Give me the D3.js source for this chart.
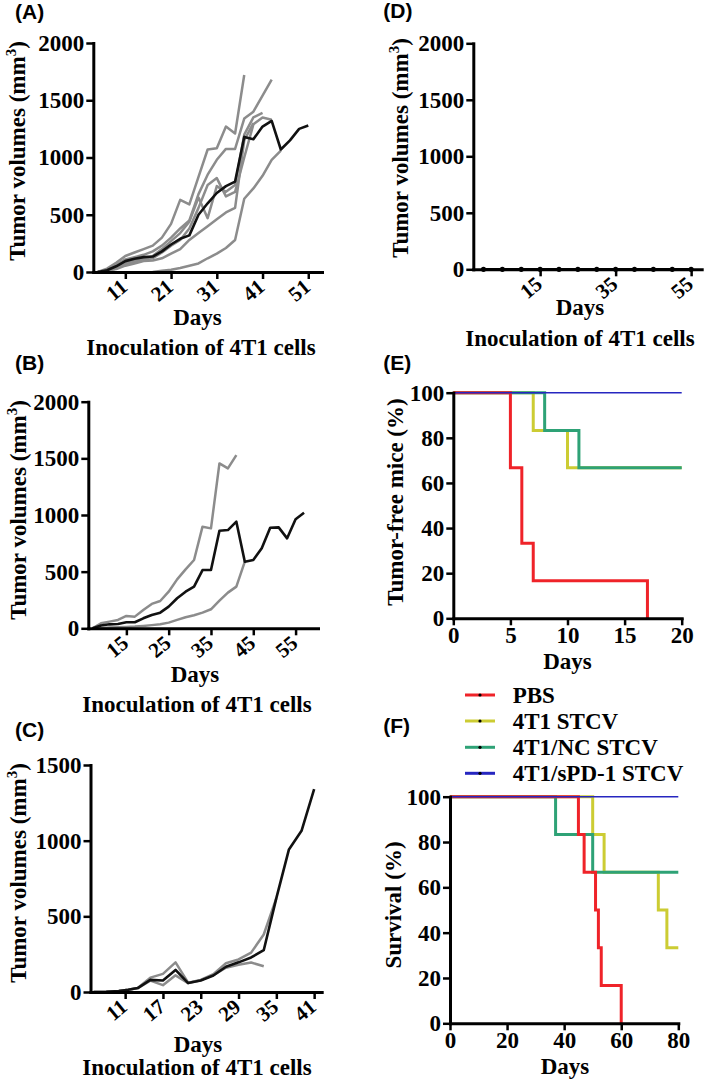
<!DOCTYPE html>
<html><head><meta charset="utf-8">
<script src="https://cdn.jsdelivr.net/npm/d3@7"></script>
<style>
body{margin:0;background:#fff;}
svg text{font-family:"Liberation Serif","Times New Roman",serif;font-weight:bold;fill:#000;}
svg text.plabel{font-family:"Liberation Sans",Arial,sans-serif;}
</style></head><body>
<svg id="chart" width="709" height="1081"></svg>
<script>
// ---------- Panel A ----------
const aDays = [5,7,9,11,13,15,17,19,21,23,25,27,29,31,33,35,37,39,41,43,45];
const aGray1 = [0,30,80,140,170,200,230,300,420,630,590,830,1070,1080,1270,1210,1720,null,null,null,null];
const aGray2 = [0,20,60,110,130,150,180,230,300,380,450,680,850,980,1075,1075,1340,1400,1540,1680,null];
const aGray3 = [0,15,45,80,100,115,140,200,270,340,440,650,470,750,700,760,1200,1350,1390,null,null];
const aGray4 = [0,10,30,70,90,110,120,170,230,280,380,560,760,820,660,700,1000,1290,1350,1330,null];
const aGray5 = [0,10,25,55,75,95,100,120,160,200,280,340,400,460,520,560,1150,1300,null,null,null];
const aGray6 = [null,null,null,null,null,null,0,10,20,35,55,75,120,160,210,280,640,730,840,980,1060];
const aBlackDays = [5,7,9,11,13,15,17,19,21,23,25,27,29,31,33,35,37,39,41,43,45,47,49,51];
const aBlackVals = [0,15,50,95,115,130,135,180,240,290,320,500,600,690,750,790,1180,1160,1270,1320,1070,1150,1250,1280];
const aXTicks = [11,21,31,41,51];
// ---------- Panel B ----------
const bBlackDays = [7,9,11,13,15,17,19,21,23,25,27,29,31,33,35,37,39,41,43,45,47,49,51,53,55,57];
const bBlackVals = [0,24,35,38,53,53,88,118,138,191,265,323,368,514,514,861,867,941,588,603,706,888,891,794,962,1020];
const bGray1Days = [7,9,11,13,15,17,19,21,23,25,27,29,31,33,35,37,39,41];
const bGray1Vals = [0,44,59,74,109,103,162,215,241,323,432,520,603,897,882,1455,1411,1529];
const bGray2Days = [7,9,11,13,15,17,19,21,23,25,27,29,31,33,35,37,39,41,43];
const bGray2Vals = [0,3,6,9,12,15,21,28,35,50,74,97,115,138,168,244,315,368,588];
const bXTicks = [15,25,35,45,55];
// ---------- Panel C ----------
const cDays = [6,8,10,11.5,13,15,17,19,21,23,25,27,29,31,33,35,37,39,41];
const cBlack = [0,2,7,15,26,80,76,146,59,76,109,167,196,228,276,620,942,1065,1340];
const cGray1 = [0,2,7,15,26,95,120,196,62,80,118,190,215,260,380,620,null,null,null];
const cGray2 = [0,2,7,15,26,75,45,110,59,78,112,160,180,195,170,null,null,null,null];
const cXTicks = [11,17,23,29,35,41];
// ---------- Panel D ----------
const dDays = [0,5,10,15,20,25,30,35,40,45,50,55];
const dVals = [0,0,0,0,0,0,0,0,0,0,0,0];
const dXTicks = [15,35,55];
// ---------- Panel E (tumor-free) ----------
const groups = ["PBS","4T1 STCV","4T1/NC STCV","4T1/sPD-1 STCV"];
const groupColors = ["#ef2329","#cccc33","#2ea276","#2626c0"];
const eTimes = [[0,5,6,7,17],[0,7,10,20],[0,8,11,20],[0,20]];
const eVals  = [[100,66.7,33.3,16.7,0],[100,83.3,66.7,66.7],[100,83.3,66.7,66.7],[100,100]];
// ---------- Panel F (survival) ----------
const fTimes = [[0,45,47,51,52,53,60],[0,50,54,73,76,80],[0,37,50,80],[0,80]];
const fVals  = [[100,83.3,66.7,50,33.3,16.7,0],[100,83.3,66.7,50,33.3,33.3],[100,83.3,66.7,66.7],[100,100]];
const volTicks2000 = [0,500,1000,1500,2000];
const volTicks1500 = [0,500,1000,1500];
const pctTicks = [0,20,40,60,80,100];

const svg = d3.select("#chart");
const GRAY = "#8c8c8c";

function axes(x, y, xticks, yticks, rotated) {
  const g = svg.append("g");
  const x0 = x.range()[0], y0 = y.range()[0];
  const ya = g.append("g").attr("transform", `translate(${x0},0)`)
    .call(d3.axisLeft(y).tickValues(yticks).tickSize(7).tickSizeOuter(0).tickPadding(2).tickFormat(d3.format("d")));
  const xa = g.append("g").attr("transform", `translate(0,${y0})`)
    .call(d3.axisBottom(x).tickValues(xticks).tickSize(7).tickSizeOuter(0).tickPadding(1).tickFormat(d3.format("d")));
  [ya, xa].forEach(a => {
    a.attr("font-family", null).attr("font-size", null);
    a.select(".domain").attr("stroke", "#000").attr("stroke-width", 3).attr("stroke-linecap", "square");
    a.selectAll(".tick line").attr("stroke", "#000").attr("stroke-width", 2.5);
    a.selectAll(".tick text").style("font-size", "23px");
  });
  if (rotated) {
    xa.selectAll(".tick text").attr("y", 0).attr("dy", 0)
      .attr("text-anchor", "end").attr("transform", "translate(3,17) rotate(-40)")
      .style("font-size", "21px");
  }
}

function ylabel(txt, cx, cy, sup) {
  const t = svg.append("text").attr("transform", `translate(${cx},${cy}) rotate(-90)`)
    .attr("text-anchor", "middle").style("font-size", "23px");
  if (sup) {
    t.append("tspan").text(txt);
    t.append("tspan").text("3").attr("dy", -9).style("font-size", "15px");
    t.append("tspan").text(")").attr("dy", 9);
  } else t.text(txt);
}
function label(txt, cx, by, size) {
  svg.append("text").attr("x", cx).attr("y", by).attr("text-anchor", "middle")
    .style("font-size", (size || 23) + "px").text(txt);
}
function plabel(txt, x, by) {
  svg.append("text").attr("class", "plabel").attr("x", x).attr("y", by)
    .style("font-size", "21px").text(txt);
}
function drawSeries(x, y, days, vals, color, w) {
  const pts = days.map((d, i) => [d, vals[i]]);
  svg.append("path").datum(pts)
    .attr("d", d3.line().defined(p => p[1] !== null).x(p => x(p[0])).y(p => y(p[1])))
    .attr("fill", "none").attr("stroke", color).attr("stroke-width", w)
    .attr("stroke-linejoin", "round");
}
function drawStep(x, y, t, v, color, w) {
  const pts = t.map((d, i) => [d, v[i]]);
  svg.append("path").datum(pts)
    .attr("d", d3.line().curve(d3.curveStepAfter).x(p => x(p[0])).y(p => y(p[1])))
    .attr("fill", "none").attr("stroke", color).attr("stroke-width", w);
}

// Panel A
{
  const x = d3.scaleLinear().domain([4, 54]).range([93.3, 322]);
  const y = d3.scaleLinear().domain([0, 2000]).range([272, 43]);
  [aGray1, aGray2, aGray3, aGray4, aGray5, aGray6].forEach(s => drawSeries(x, y, aDays, s, GRAY, 2.5));
  drawSeries(x, y, aBlackDays, aBlackVals, "#111", 2.6);
  axes(x, y, aXTicks, volTicks2000, true);
  ylabel("Tumor volumes (mm", 25, 151, true);
  label("Days", 197.5, 325);
  label("Inoculation of 4T1 cells", 201, 355);
  plabel("(A)", 15, 18.5);
}
// Panel B
{
  const x = d3.scaleLinear().domain([6, 60.3]).range([88.3, 318]);
  const y = d3.scaleLinear().domain([0, 2000]).range([628.3, 401.7]);
  drawSeries(x, y, bGray1Days, bGray1Vals, GRAY, 2.5);
  drawSeries(x, y, bGray2Days, bGray2Vals, GRAY, 2.5);
  drawSeries(x, y, bBlackDays, bBlackVals, "#111", 2.6);
  axes(x, y, bXTicks, volTicks2000, true);
  ylabel("Tumor volumes (mm", 26, 510, true);
  label("Days", 195, 681.7);
  label("Inoculation of 4T1 cells", 197, 711.7);
  plabel("(B)", 15, 370);
}
// Panel C
{
  const x = d3.scaleLinear().domain([5.5, 42.2]).range([90.5, 321.7]);
  const y = d3.scaleLinear().domain([0, 1500]).range([992, 765]);
  drawSeries(x, y, cDays, cGray1, GRAY, 2.5);
  drawSeries(x, y, cDays, cGray2, GRAY, 2.5);
  drawSeries(x, y, cDays, cBlack, "#111", 2.6);
  axes(x, y, cXTicks, volTicks1500, true);
  ylabel("Tumor volumes (mm", 26, 873, true);
  label("Days", 198, 1051.7);
  label("Inoculation of 4T1 cells", 197, 1075);
  plabel("(C)", 15, 736.7);
}
// Panel D
{
  const x = d3.scaleLinear().domain([-2.7, 57.8]).range([473.3, 701.7]);
  const y = d3.scaleLinear().domain([0, 2000]).range([269.3, 43.3]);
  axes(x, y, dXTicks, volTicks2000, true);
  drawSeries(x, y, dDays, dVals, "#000", 2.5);
  svg.append("g").selectAll("circle").data(dDays).join("circle")
    .attr("cx", d => x(d)).attr("cy", (d, i) => y(dVals[i])).attr("r", 2.6).attr("fill", "#000");
  ylabel("Tumor volumes (mm", 408, 148, true);
  label("Days", 580, 314.5);
  label("Inoculation of 4T1 cells", 580, 346);
  plabel("(D)", 383.3, 18.3);
}
// Panel E
{
  const x = d3.scaleLinear().domain([0, 20]).range([453.3, 681.7]);
  const y = d3.scaleLinear().domain([0, 100]).range([618.3, 392.7]);
  [1, 2, 0].forEach(i => drawStep(x, y, eTimes[i], eVals[i], groupColors[i], 3));
  drawStep(x, y, eTimes[3], eVals[3], groupColors[3], 1.6);
  axes(x, y, [0,5,10,15,20], pctTicks, false);
  ylabel("Tumor-free mice (%)", 403, 502, false);
  label("Days", 567.5, 669);
  plabel("(E)", 383.3, 370);
}
// Legend
{
  const ly = [695, 721, 747.3, 773.3];
  groups.forEach((gname, i) => {
    svg.append("line").attr("x1", 465).attr("x2", 495).attr("y1", ly[i]).attr("y2", ly[i])
      .attr("stroke", groupColors[i]).attr("stroke-width", 3);
    svg.append("circle").attr("cx", 480).attr("cy", ly[i]).attr("r", 1.6).attr("fill", "#000");
    svg.append("text").attr("x", 512.7).attr("y", ly[i] + 8).style("font-size", "23px").text(gname);
  });
}
// Panel F
{
  const x = d3.scaleLinear().domain([0, 80]).range([450, 678.3]);
  const y = d3.scaleLinear().domain([0, 100]).range([1023.3, 796.7]);
  [1, 2, 0].forEach(i => drawStep(x, y, fTimes[i], fVals[i], groupColors[i], 3));
  drawStep(x, y, fTimes[3], fVals[3], groupColors[3], 1.6);
  axes(x, y, [0,20,40,60,80], pctTicks, false);
  ylabel("Survival (%)", 401, 905, false);
  label("Days", 565, 1074);
  plabel("(F)", 383.3, 732.7);
}
</script>
</body></html>
